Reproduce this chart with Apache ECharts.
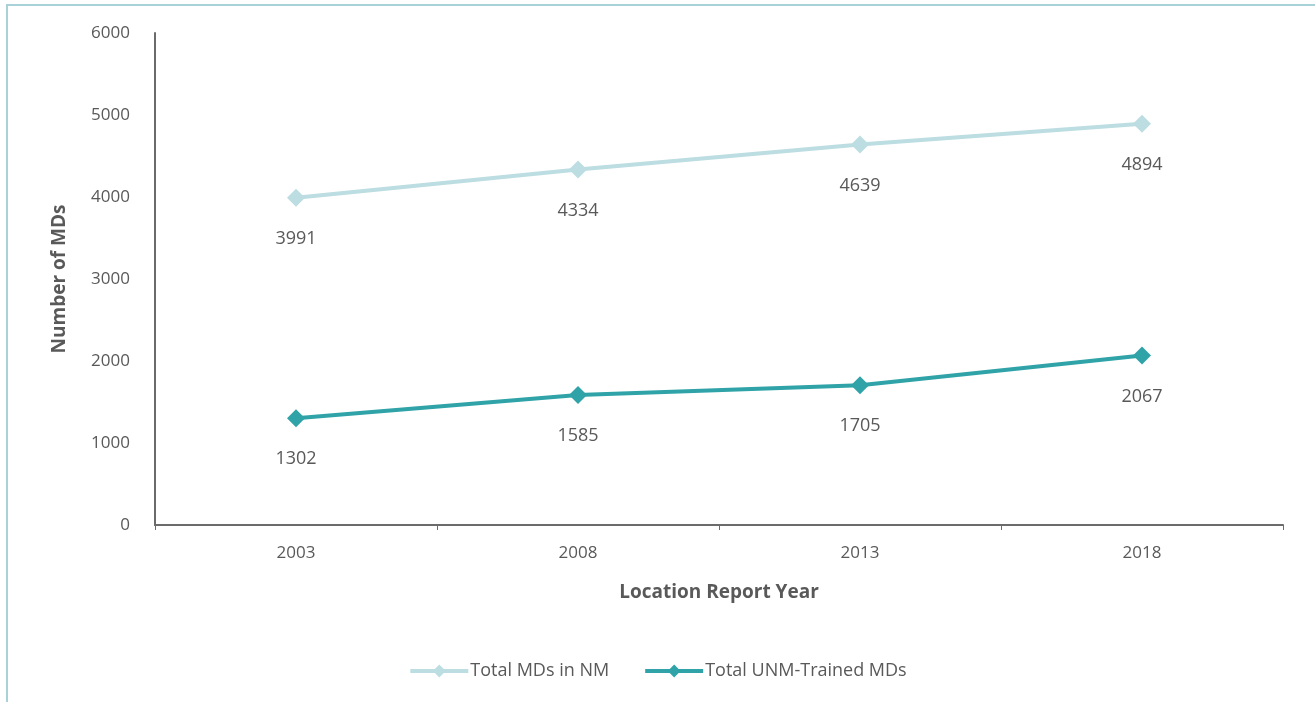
<!DOCTYPE html>
<html>
<head>
<meta charset="utf-8">
<script src="https://cdn.jsdelivr.net/npm/echarts@6/dist/echarts.min.js"></script>
<style>
  html, body { margin: 0; padding: 0; background: #fff; }
  #frame { position: absolute; left: 6px; top: 4px; width: 1400px; height: 800px;
           border: 2px solid #a9d2d8; box-sizing: border-box; }
  #chart { position: absolute; left: 0; top: 0; width: 1315px; height: 702px; }
</style>
</head>
<body>
<div id="frame"></div>
<div id="chart"></div>
<script>
// data
var years = ['2003', '2008', '2013', '2018'];
var totalMDs = [3991, 4334, 4639, 4894];
var unmTrained = [1302, 1585, 1705, 2067];
var yTicks = [0, 1000, 2000, 3000, 4000, 5000, 6000];

var textColor = '#595959';
var font = '"Open Sans", sans-serif';

var chart = echarts.init(document.getElementById('chart'));

function lineSeries(name, values, color) {
    return {
        name: name,
        type: 'line',
        data: values,
        symbol: 'diamond',
        symbolSize: 18,
        lineStyle: { color: color, width: 4 },
        itemStyle: { color: color },
        label: {
            show: true,
            position: 'bottom',
            distance: 23,
            color: textColor,
            fontFamily: font,
            fontSize: 18
        },
        z: 3
    };
}

chart.setOption({
    animation: false,
    grid: { left: 155, right: 32, top: 33, bottom: 177 },
    legend: {
        bottom: 17,
        left: 'center',
        itemWidth: 58,
        itemHeight: 16,
        itemGap: 34,
        lineStyle: { width: 4 },
        textStyle: { color: textColor, fontFamily: font, fontSize: 18, padding: [0, 0, 0, -3] },
        data: ['Total MDs in NM', 'Total UNM-Trained MDs']
    },
    xAxis: {
        type: 'category',
        data: years,
        boundaryGap: true,
        name: 'Location Report Year',
        nameLocation: 'middle',
        nameGap: 58,
        nameTextStyle: { color: textColor, fontFamily: font, fontSize: 19, fontWeight: 'bold' },
        axisLine: { lineStyle: { color: '#6b6b6b', width: 2 } },
        axisTick: { show: true, length: 5, lineStyle: { color: '#6b6b6b' } },
        axisLabel: { color: textColor, fontFamily: font, fontSize: 17, margin: 20 }
    },
    yAxis: {
        type: 'value',
        min: yTicks[0],
        max: yTicks[yTicks.length - 1],
        interval: 1000,
        name: 'Number of MDs',
        nameLocation: 'middle',
        nameGap: 86,
        nameTextStyle: { color: textColor, fontFamily: font, fontSize: 19, fontWeight: 'bold' },
        axisLine: { show: true, lineStyle: { color: '#6b6b6b', width: 2 } },
        axisTick: { show: false },
        splitLine: { show: false },
        axisLabel: {
            color: textColor, fontFamily: font, fontSize: 17, margin: 25,
            formatter: function (v) { return String(v); }
        }
    },
    series: [
        lineSeries('Total MDs in NM', totalMDs, '#bcdde1'),
        lineSeries('Total UNM-Trained MDs', unmTrained, '#2fa3a7')
    ]
});
</script>
</body>
</html>
